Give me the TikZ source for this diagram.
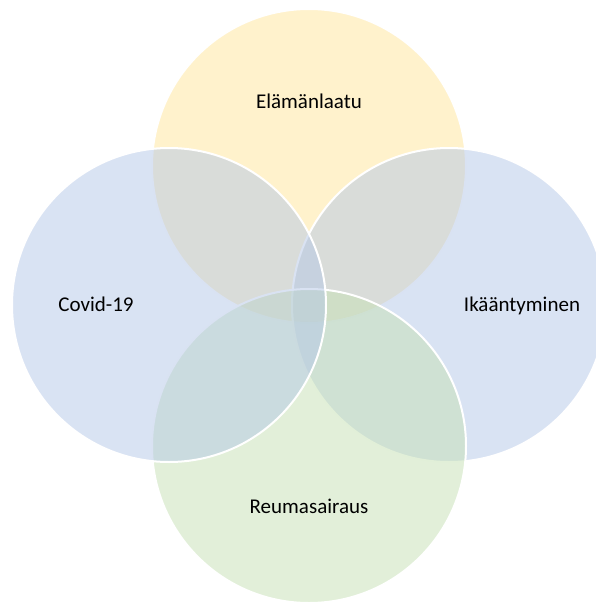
\documentclass[tikz,border=0pt]{standalone}
\usepackage{fontspec}
\setmainfont{Carlito}
\definecolor{vyellow}{HTML}{FFE599}
\definecolor{vblue}{HTML}{B4C7E7}
\definecolor{vgreen}{HTML}{C5E0B3}
\begin{document}
\begin{tikzpicture}[x=1pt,y=-1pt,
  venn/.style={circle,minimum size=314pt,inner sep=0pt,draw=white,line width=2pt,fill opacity=0.5,text opacity=1},
  lbl/.style={font=\fontsize{21}{25}\selectfont,anchor=base,inner sep=0pt,text=black}]
\useasboundingbox (0,0) rectangle (596,605);
\begin{scope}
\clip (0,0) rectangle (596,605);
\node[venn,fill=vyellow] (top) at (309,166) {};
\node[venn,fill=vblue] (right) at (449,305) {};
\node[venn,fill=vgreen] (bottom) at (309,446) {};
\node[venn,fill=vblue] (left) at (169,305) {};
\end{scope}
\node[lbl] (ttop) at (309,108.5) {Elämänlaatu};
\node[lbl] (tleft) at (96,311) {Covid-19};
\node[lbl] (tright) at (522,311) {Ikääntyminen};
\node[lbl] (tbottom) at (309,513) {Reumasairaus};
\end{tikzpicture}
\end{document}
